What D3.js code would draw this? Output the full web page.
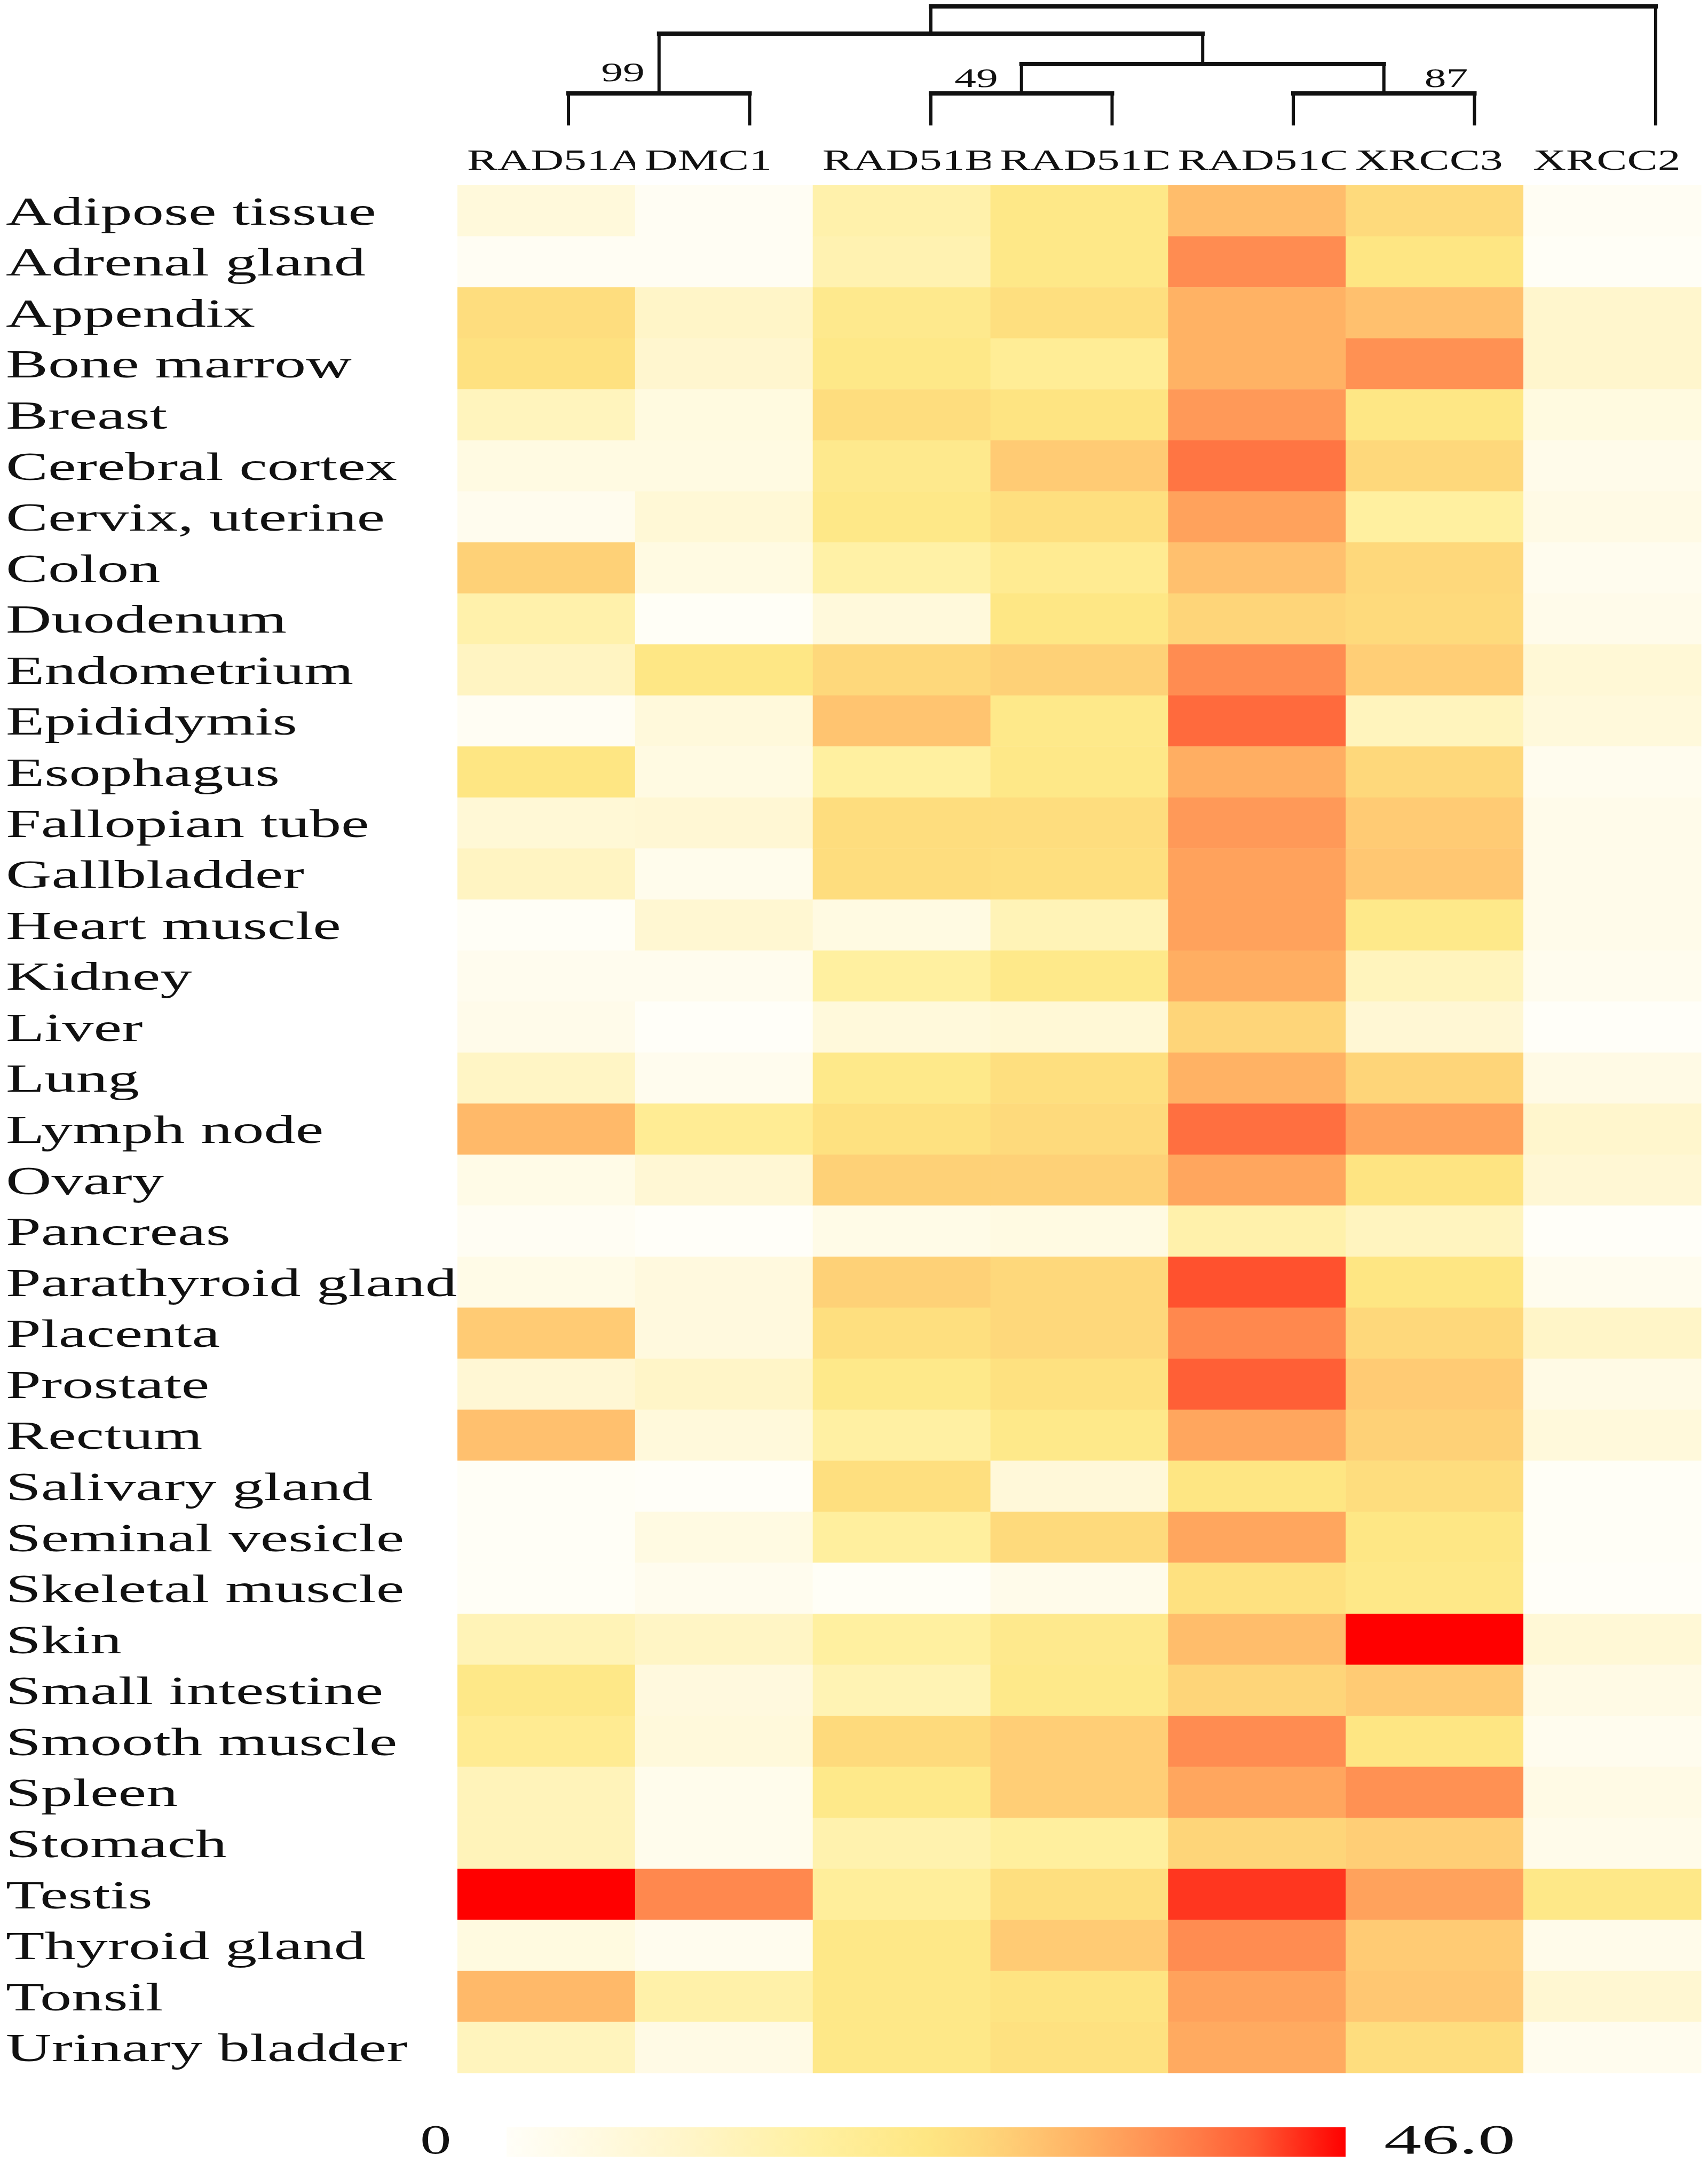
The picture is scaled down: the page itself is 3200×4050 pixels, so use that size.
<!DOCTYPE html>
<html>
<head>
<meta charset="utf-8">
<script src="https://cdn.jsdelivr.net/npm/d3@7"></script>
<style>
  html, body { margin: 0; padding: 0; background: #fff; }
  svg { display: block; }
  text { font-family: "Liberation Serif", "Times New Roman", serif; fill: #111; }
</style>
</head>
<body>
<div id="chart"></div>
<script>
// ---------------------------------------------------------------------------
// data
// ---------------------------------------------------------------------------
const tissues = [
  'Adipose tissue', 'Adrenal gland', 'Appendix', 'Bone marrow', 'Breast',
  'Cerebral cortex', 'Cervix, uterine', 'Colon', 'Duodenum', 'Endometrium',
  'Epididymis', 'Esophagus', 'Fallopian tube', 'Gallbladder', 'Heart muscle',
  'Kidney', 'Liver', 'Lung', 'Lymph node', 'Ovary', 'Pancreas',
  'Parathyroid gland', 'Placenta', 'Prostate', 'Rectum', 'Salivary gland',
  'Seminal vesicle', 'Skeletal muscle', 'Skin', 'Small intestine',
  'Smooth muscle', 'Spleen', 'Stomach', 'Testis', 'Thyroid gland', 'Tonsil',
  'Urinary bladder'
];

const genes = ['RAD51A', 'DMC1', 'RAD51B', 'RAD51D', 'RAD51C', 'XRCC3', 'XRCC2'];

// expression per gene, same order as tissues
const rad51a = [6, 1, 25, 24, 12, 4.5, 2, 27, 15, 11, 1, 23, 7, 11, 0.5, 2, 3, 10.5, 30.5,
  3.5, 1, 3.5, 28, 7.5, 29.5, 0.5, 0.5, 0.5, 13, 22, 20, 12.5, 12.5, 46, 5, 30.5, 12];
const dmc1 = [1, 1, 10, 8.5, 5, 4.5, 7, 4.5, 0.5, 22.5, 6, 4.5, 7.5, 2.5, 8, 2, 0, 2, 19.5,
  7.5, 0, 5.5, 5.5, 10, 6, 0, 4.5, 2, 10.5, 5.5, 6, 2.5, 2.5, 36.5, 2, 15.5, 4];
const rad51b = [15, 14, 21, 22, 25, 21, 22, 16, 6, 26, 29, 17, 25, 25, 4.5, 17, 6, 21.5, 24,
  27, 3.5, 27, 24.5, 21.5, 16.5, 24.5, 17.5, 0.5, 17, 13.5, 25.5, 21.5, 14.5, 18, 22, 22, 22];
const rad51d = [22, 22, 24.5, 19, 23.5, 28, 24.5, 20, 22.5, 27, 21.5, 22, 25, 24.5, 13, 21.5,
  7, 24.5, 25.5, 27, 4.5, 26, 26, 24, 21.5, 6.5, 25.5, 3, 21, 21.5, 27.5, 27.5, 17.5, 24.5,
  28, 23.5, 24];
const rad51c = [30, 36, 31.5, 31.5, 34.5, 38.5, 33.5, 29.5, 26.5, 36, 39.5, 32, 34.5, 33.5,
  33.5, 32, 26.5, 31.5, 39, 33, 15, 41.5, 36.5, 40.5, 33, 23, 33, 24, 30, 26.5, 36, 33, 26.5,
  43, 36, 33.5, 32.5];
const xrcc3 = [25.5, 23, 29.5, 35.5, 22.5, 26, 17, 26, 25.5, 27.5, 12, 26, 28, 28.5, 21.5, 12,
  7.5, 26.5, 33.5, 23.5, 11.5, 23, 26, 28, 27, 25, 22.5, 22, 46, 28, 23, 35.5, 27.5, 33.5, 28,
  28.5, 25];
const xrcc2 = [1, 0.5, 9, 9, 5, 3, 4, 2, 3, 7, 6, 2, 3, 3, 3, 2, 0, 4, 9, 7.5, 0, 2, 10, 4, 6,
  0.5, 0.5, 0, 7, 4, 2, 4, 3, 22, 3, 8, 2];

const series = [rad51a, dmc1, rad51b, rad51d, rad51c, xrcc3, xrcc2];

// colour legend
const legendMin = 0;
const legendMax = 46.0;
const legendLabels = ['0', '46.0'];

// clustering tree: merge level (0 = leaves) and bootstrap support
const mergeIds      = ['n1', 'n2', 'n3', 'n4', 'n5', 'root'];
const mergeLeft     = ['RAD51A', 'RAD51B', 'RAD51C', 'n2', 'n1', 'n5'];
const mergeRight    = ['DMC1', 'RAD51D', 'XRCC3', 'n3', 'n4', 'XRCC2'];
const mergeLevel    = [1, 1, 1, 2, 3, 4];
const mergeSupport  = ['99', '49', '87', '', '', ''];

// ---------------------------------------------------------------------------
// layout
// ---------------------------------------------------------------------------
const W = 3200, H = 4050;
const heat = { x0: 857, x1: 3187, y0: 347, y1: 3883 };
const SX = 1.6;               // the source figure is stretched horizontally

const svg = d3.select('#chart').append('svg')
  .attr('width', W).attr('height', H)
  .attr('viewBox', `0 0 ${W} ${H}`);

const x = d3.scaleBand().domain(genes).range([heat.x0, heat.x1]);
const y = d3.scaleBand().domain(tissues).range([heat.y0, heat.y1]);

const color = d3.scaleLinear()
  .domain([0, 10, 17, 23, 26, 29, 32, 35, 38, 41, 46])
  .range(['#fffef8', '#fff5c8', '#fff0a0', '#fee683', '#fed87b', '#ffc470',
          '#ffae62', '#ff9556', '#ff7a46', '#ff5a33', '#ff0000'])
  .clamp(true);

// ---------------------------------------------------------------------------
// cells
// ---------------------------------------------------------------------------
const cells = [];
genes.forEach((g, gi) => {
  tissues.forEach((t, ti) => cells.push({ gene: g, tissue: t, value: series[gi][ti] }));
});

svg.append('g').selectAll('rect')
  .data(cells)
  .join('rect')
  .attr('x', d => x(d.gene))
  .attr('y', d => y(d.tissue))
  .attr('width', x.bandwidth() + 0.5)
  .attr('height', y.bandwidth() + 0.5)
  .attr('fill', d => color(d.value));

// ---------------------------------------------------------------------------
// row labels
// ---------------------------------------------------------------------------
svg.append('g').selectAll('text')
  .data(tissues)
  .join('text')
  .attr('transform', d => `translate(11, ${y(d) + y.bandwidth() / 2 + 26}) scale(${SX},1)`)
  .attr('font-size', 74)
  .text(d => d);

// ---------------------------------------------------------------------------
// column labels (clipped to their column like the original)
// ---------------------------------------------------------------------------
const defs = svg.append('defs');
genes.forEach((g, i) => {
  defs.append('clipPath').attr('id', `col-clip-${i}`)
    .append('rect')
    .attr('x', x(g)).attr('y', 240)
    .attr('width', x.bandwidth()).attr('height', 100);
});

svg.append('g').selectAll('g')
  .data(genes)
  .join('g')
  .attr('clip-path', (d, i) => `url(#col-clip-${i})`)
  .append('text')
  .attr('transform', d => `translate(${x(d) + 18}, 318) scale(1.56,1)`)
  .attr('font-size', 55)
  .text(d => d);

// ---------------------------------------------------------------------------
// dendrogram
// ---------------------------------------------------------------------------
const leafX = d3.scalePoint().domain(genes).range([1065, 3102]);
const levelY = d3.scaleLinear().domain([0, 1, 2, 3, 4]).range([232, 175, 120, 63, 12]);

const pos = {};
genes.forEach(g => { pos[g] = { x: leafX(g), y: levelY(0) }; });
mergeIds.forEach((id, i) => {
  const l = pos[mergeLeft[i]], r = pos[mergeRight[i]];
  pos[id] = { x: (l.x + r.x) / 2, y: levelY(mergeLevel[i]), l, r };
});

const dendro = svg.append('g')
  .attr('fill', 'none').attr('stroke', '#111')
  .attr('stroke-linecap', 'square');

// vertical legs
dendro.selectAll('path.leg')
  .data(mergeIds)
  .join('path')
  .attr('class', 'leg')
  .attr('stroke-width', 6)
  .attr('d', id => {
    const n = pos[id];
    return `M${n.l.x},${n.l.y}V${n.y}M${n.r.x},${n.r.y}V${n.y}`;
  });

// horizontal bars, a bit heavier
dendro.selectAll('path.bar')
  .data(mergeIds)
  .join('path')
  .attr('class', 'bar')
  .attr('stroke-width', 8)
  .attr('d', id => {
    const n = pos[id];
    return `M${n.l.x},${n.y}H${n.r.x}`;
  });

// bootstrap values
const supportOffset = { n1: [-27, 152, 'end'], n2: [-44, 163, 'end'], n3: [76, 163, 'start'] };
mergeIds.forEach((id, i) => {
  if (!mergeSupport[i]) return;
  const [dx, by, anchor] = supportOffset[id];
  svg.append('text')
    .attr('transform', `translate(${pos[id].x + dx}, ${by}) scale(1.6,1)`)
    .attr('text-anchor', anchor)
    .attr('font-size', 51)
    .text(mergeSupport[i]);
});

// ---------------------------------------------------------------------------
// colour legend
// ---------------------------------------------------------------------------
const legendX = d3.scaleLinear().domain([legendMin, legendMax]).range([949, 2521]);
const grad = defs.append('linearGradient').attr('id', 'legend-grad');
color.domain().forEach(v => {
  grad.append('stop')
    .attr('offset', `${(v - legendMin) / (legendMax - legendMin) * 100}%`)
    .attr('stop-color', color(v));
});

svg.append('rect')
  .attr('x', legendX(legendMin)).attr('y', 3985)
  .attr('width', legendX(legendMax) - legendX(legendMin)).attr('height', 55)
  .attr('fill', 'url(#legend-grad)');

svg.append('text')
  .attr('transform', `translate(787, 4034) scale(1.5,1)`)
  .attr('font-size', 78)
  .text(legendLabels[0]);

svg.append('text')
  .attr('transform', `translate(2593, 4034) scale(1.5,1)`)
  .attr('font-size', 78)
  .attr('textLength', 164)
  .attr('lengthAdjust', 'spacingAndGlyphs')
  .text(legendLabels[1]);
</script>
</body>
</html>
